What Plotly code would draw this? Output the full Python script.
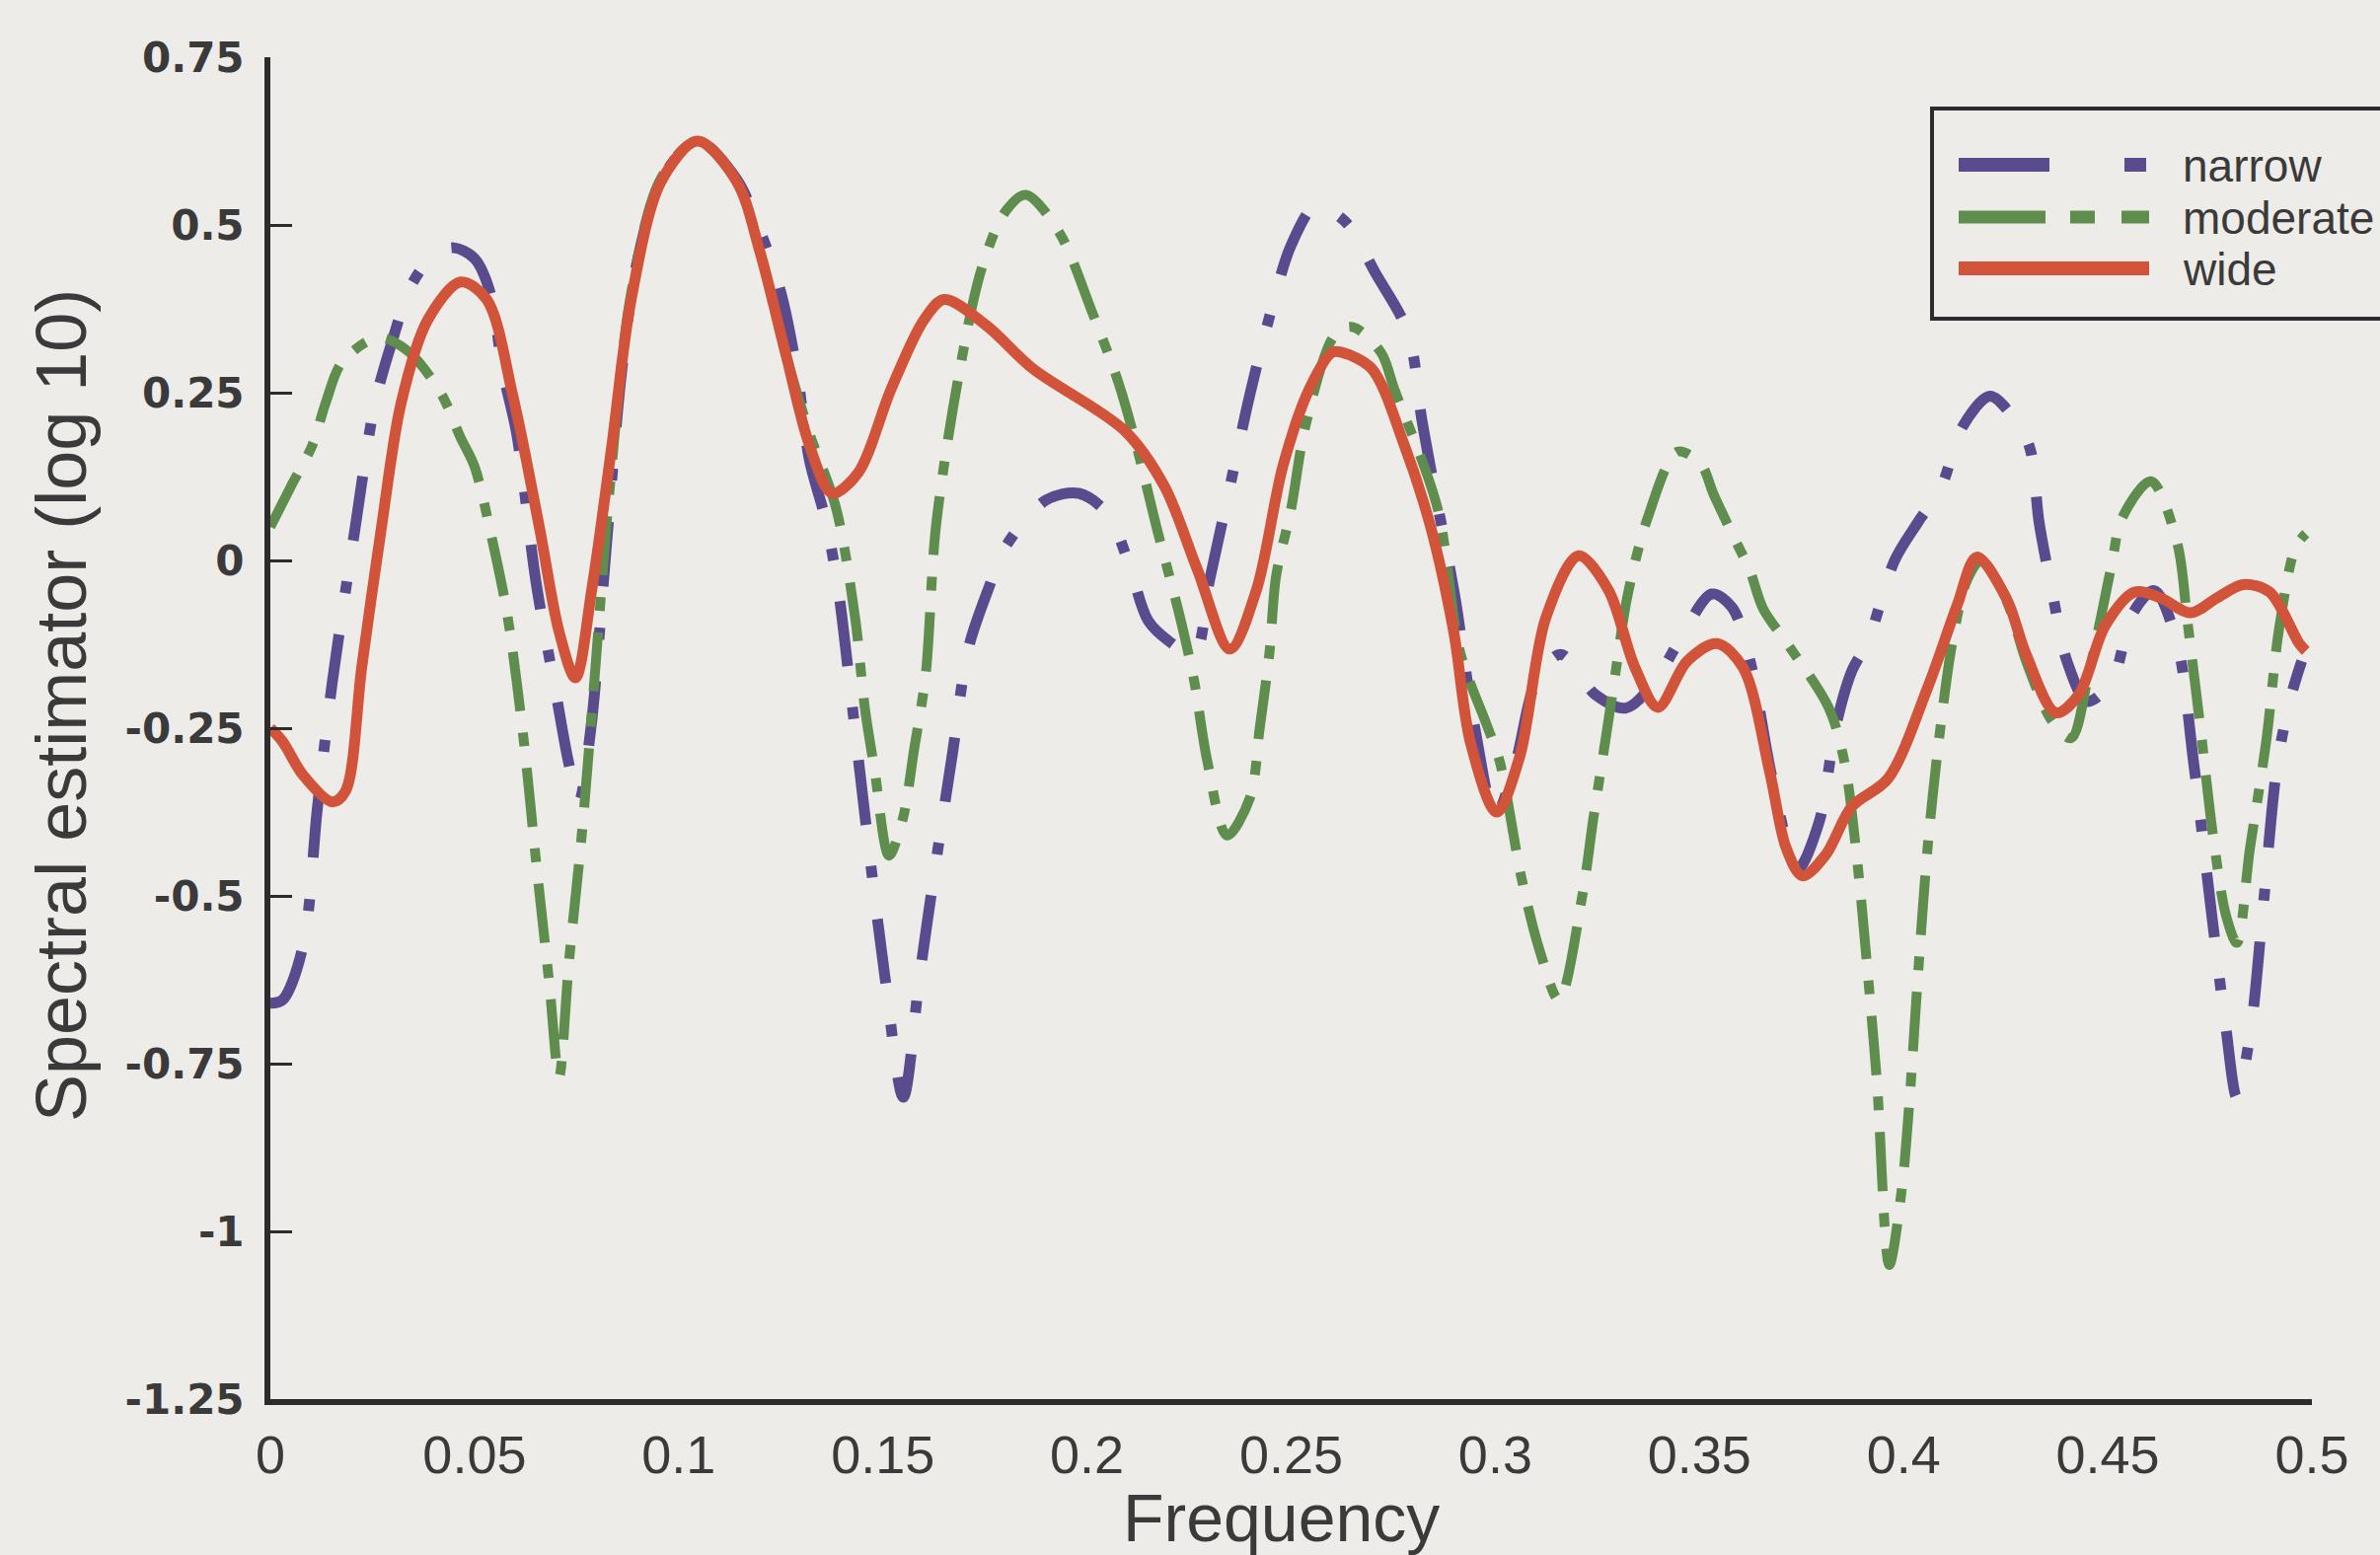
import plotly.graph_objects as go

# ---------------- data ----------------
freq_narrow = [0.000, 0.003, 0.008, 0.0115, 0.0152, 0.0208, 0.0256, 0.030, 0.0345, 0.040,
               0.0449, 0.050, 0.0538, 0.057, 0.0603, 0.0651, 0.070, 0.073, 0.0755, 0.0785,
               0.082, 0.086, 0.090, 0.096, 0.1046, 0.114, 0.120, 0.125, 0.129, 0.132,
               0.136, 0.139, 0.142, 0.146, 0.1505, 0.155, 0.159, 0.163, 0.167, 0.171,
               0.176, 0.180, 0.190, 0.198, 0.205, 0.210, 0.215, 0.220, 0.2262, 0.230,
               0.2343, 0.240, 0.245, 0.250, 0.256, 0.260, 0.264, 0.2705, 0.2786, 0.282,
               0.285, 0.290, 0.295, 0.300, 0.305, 0.310, 0.316, 0.3245, 0.332, 0.3391,
               0.3454, 0.353, 0.358, 0.3624, 0.368, 0.374, 0.3793, 0.3833, 0.3873, 0.3913,
               0.3978, 0.4034, 0.4091, 0.4145, 0.4211, 0.426, 0.4308, 0.4332, 0.4364, 0.440,
               0.445, 0.451, 0.456, 0.4614, 0.467, 0.471, 0.4755, 0.479, 0.4816, 0.485,
               0.488, 0.4916, 0.495, 0.4975]
narrow = [-0.66, -0.655, -0.575, -0.37, -0.18, 0.05, 0.234, 0.33, 0.41, 0.455,
          0.466, 0.45, 0.40, 0.28, 0.19, -0.034, -0.20, -0.30, -0.36, -0.25,
          0.0, 0.28, 0.45, 0.57, 0.625, 0.57, 0.49, 0.40, 0.28, 0.15,
          0.06, -0.04, -0.19, -0.40, -0.62, -0.80, -0.62, -0.45, -0.29, -0.13,
          -0.04, 0.02, 0.09, 0.10, 0.07, 0.0, -0.09, -0.12, -0.14, -0.03,
          0.09, 0.25, 0.37, 0.47, 0.53, 0.52, 0.50, 0.43, 0.34, 0.21,
          0.11, -0.05, -0.25, -0.38, -0.30, -0.18, -0.14, -0.20, -0.22, -0.18,
          -0.116, -0.05, -0.07, -0.15, -0.33, -0.46, -0.39, -0.25, -0.165, -0.12,
          0.0, 0.056, 0.108, 0.20, 0.245, 0.22, 0.17, 0.056, -0.047, -0.15,
          -0.21, -0.18, -0.08, -0.045, -0.124, -0.30, -0.53, -0.70, -0.80, -0.70,
          -0.52, -0.30, -0.20, -0.15]

freq_moderate = [0.000, 0.005, 0.0103, 0.0135, 0.0176, 0.0264, 0.0337, 0.0417, 0.0466, 0.050,
                 0.054, 0.058, 0.0619, 0.0651, 0.0683, 0.0707, 0.0731, 0.0764, 0.0796, 0.083,
                 0.0884, 0.0957, 0.1046, 0.1142, 0.1199, 0.1263, 0.132, 0.1385, 0.1432, 0.1456,
                 0.148, 0.1515, 0.1549, 0.1577, 0.1605, 0.163, 0.1686, 0.1742, 0.180, 0.185,
                 0.1931, 0.2012, 0.2077, 0.2125, 0.2173, 0.2226, 0.2262, 0.2294, 0.2343, 0.2399,
                 0.2423, 0.2447, 0.2463, 0.2499, 0.2536, 0.2608, 0.265, 0.272, 0.2753, 0.2858,
                 0.2914, 0.2979, 0.3011, 0.3063, 0.3108, 0.3156, 0.3213, 0.324, 0.3269, 0.3289,
                 0.3325, 0.3374, 0.3446, 0.3503, 0.3535, 0.358, 0.3624, 0.3656, 0.3721, 0.3817,
                 0.3855, 0.3885, 0.391, 0.3935, 0.3965, 0.3995, 0.4015, 0.4035, 0.406, 0.409,
                 0.412, 0.4155, 0.419, 0.4252, 0.430, 0.4364, 0.441, 0.4453, 0.451, 0.4534,
                 0.4606, 0.467, 0.4695, 0.4727, 0.476, 0.479, 0.4816, 0.4848, 0.4888, 0.492,
                 0.496, 0.4985]
moderate = [0.05, 0.11, 0.172, 0.234, 0.296, 0.332, 0.312, 0.25, 0.183, 0.14,
            0.04, -0.08, -0.26, -0.45, -0.63, -0.77, -0.60, -0.40, -0.16, 0.10,
            0.40, 0.57, 0.625, 0.565, 0.46, 0.306, 0.19, 0.079, -0.085, -0.22,
            -0.313, -0.44, -0.385, -0.28, -0.17, 0.05, 0.276, 0.435, 0.52, 0.545,
            0.49, 0.371, 0.265, 0.162, 0.043, -0.08, -0.178, -0.297, -0.41, -0.354,
            -0.25, -0.137, -0.024, 0.074, 0.203, 0.337, 0.348, 0.31, 0.255, 0.079,
            -0.137, -0.245, -0.30, -0.47, -0.58, -0.655, -0.50, -0.385, -0.271, -0.19,
            -0.049, 0.065, 0.162, 0.144, 0.098, 0.04, -0.016, -0.072, -0.129, -0.22,
            -0.30, -0.44, -0.60, -0.78, -1.05, -0.94, -0.80, -0.62, -0.42, -0.25,
            -0.12, -0.03, 0.0, -0.06, -0.15, -0.24, -0.265, -0.17, -0.005, 0.062,
            0.118, 0.026, -0.09, -0.25, -0.42, -0.53, -0.57, -0.43, -0.27, -0.10,
            0.02, 0.04]

freq_wide = [0.000, 0.003, 0.008, 0.0152, 0.0184, 0.0224, 0.0272, 0.032, 0.0385, 0.0466,
             0.053, 0.0594, 0.0659, 0.0707, 0.0747, 0.0788, 0.0836, 0.0884, 0.0957, 0.1046,
             0.1142, 0.1199, 0.1263, 0.132, 0.1376, 0.144, 0.152, 0.160, 0.165, 0.1754,
             0.1867, 0.2093, 0.219, 0.227, 0.235, 0.2415, 0.248, 0.2544, 0.2600, 0.2624,
             0.2697, 0.2777, 0.2842, 0.2898, 0.2939, 0.3003, 0.306, 0.3124, 0.3204, 0.3277,
             0.3341, 0.3398, 0.347, 0.3543, 0.3607, 0.3672, 0.3712, 0.3752, 0.3809, 0.3873,
             0.3962, 0.4058, 0.4131, 0.4179, 0.4252, 0.430, 0.4373, 0.4429, 0.4493, 0.4566,
             0.463, 0.4703, 0.4767, 0.4832, 0.4896, 0.4969, 0.4985]
wide = [-0.25, -0.27, -0.32, -0.36, -0.344, -0.158, 0.049, 0.234, 0.358, 0.415,
        0.389, 0.245, 0.049, -0.106, -0.175, -0.04, 0.17, 0.39, 0.565, 0.625,
        0.565, 0.46, 0.306, 0.172, 0.10, 0.131, 0.255, 0.358, 0.389, 0.35,
        0.286, 0.193, 0.11, -0.013, -0.132, -0.044, 0.141, 0.255, 0.31, 0.31,
        0.286, 0.172, 0.049, -0.106, -0.271, -0.375, -0.292, -0.085, 0.007, -0.044,
        -0.158, -0.219, -0.15, -0.124, -0.16, -0.315, -0.428, -0.47, -0.439, -0.367,
        -0.325, -0.191, -0.067, 0.005, -0.057, -0.14, -0.227, -0.2, -0.098, -0.047,
        -0.056, -0.078, -0.056, -0.036, -0.047, -0.124, -0.135]

series_names = ["narrow", "moderate", "wide"]
series_colors = ["#5a4b8e", "#5f8d4e", "#d1533a"]
series_dash = ["66px,42px,12px,42px", "60px,22px,14px,22px", "solid"]
series_width = [11, 10, 11]

x_tickvals = [0, 0.05, 0.1, 0.15, 0.2, 0.25, 0.3, 0.35, 0.4, 0.45, 0.5]
x_ticktext = ["0", "0.05", "0.1", "0.15", "0.2", "0.25", "0.3", "0.35", "0.4", "0.45", "0.5"]
y_tickvals = [0.75, 0.5, 0.25, 0, -0.25, -0.5, -0.75, -1, -1.25]
y_ticktext = ["0.75", "0.5", "0.25", "0", "-0.25", "-0.5", "-0.75", "-1", "-1.25"]

# ---------------- figure ----------------
W, H = 2412, 1576
ML, MR, MT, MB = 274, 69, 58, 158
PW, PH = W - ML - MR, H - MT - MB
BG = "#edece8"
INK = "#2f2a2e"
TXT = "#3b3a3a"

fig = go.Figure()
xs = [freq_narrow, freq_moderate, freq_wide]
ys = [narrow, moderate, wide]
for name, fx, vy, col, dash, lw in zip(series_names, xs, ys, series_colors, series_dash, series_width):
    fig.add_trace(go.Scatter(
        x=fx, y=vy, mode="lines", name=name,
        line=dict(color=col, width=lw, dash=dash, shape="spline", smoothing=0.9),
        showlegend=False, hoverinfo="skip"))


def px_x(px):
    return (px - ML) / PW


def px_y(py):
    return (H - MB - py) / PH


# custom legend (box, samples, labels)
shapes = [dict(type="rect", xref="paper", yref="paper",
               x0=px_x(1958), x1=px_x(2440), y0=px_y(323), y1=px_y(110),
               line=dict(color=INK, width=4), fillcolor=BG, layer="above")]
legend_y = [167, 220, 272]
legend_dash = ["92px,76px,22px,300px", "88px,25px,25px,27px,28px,300px", "solid"]
annotations = []
for name, col, ldash, lw, ly in zip(series_names, series_colors, legend_dash, series_width, legend_y):
    shapes.append(dict(type="line", xref="paper", yref="paper",
                       x0=px_x(1985), x1=px_x(2178), y0=px_y(ly), y1=px_y(ly),
                       line=dict(color=col, width=lw + 3, dash=ldash), layer="above"))
    annotations.append(dict(text=name, xref="paper", yref="paper",
                            x=px_x(2210), y=px_y(ly + 1), xanchor="left", yanchor="middle",
                            showarrow=False,
                            font=dict(family="Liberation Sans", size=46, color=TXT)))

# axis titles
annotations.append(dict(text="Frequency", xref="paper", yref="paper",
                        x=px_x(1298), y=0, yshift=-120, xanchor="center", yanchor="middle",
                        showarrow=False,
                        font=dict(family="Liberation Sans", size=68, color=TXT)))
annotations.append(dict(text="Spectral estimator (log 10)", xref="paper", yref="paper",
                        x=0, xshift=62 - ML, y=px_y(715), xanchor="center", yanchor="middle",
                        textangle=-90, showarrow=False,
                        font=dict(family="Liberation Sans", size=72, color=TXT)))

fig.update_layout(
    width=W, height=H,
    margin=dict(l=ML, r=MR, t=MT, b=MB, pad=0),
    paper_bgcolor=BG, plot_bgcolor=BG,
    showlegend=False,
    shapes=shapes, annotations=annotations,
    xaxis=dict(range=[0, 0.5], tickvals=x_tickvals, ticktext=x_ticktext,
               showgrid=False, zeroline=False, showline=True, linecolor=INK, linewidth=6,
               ticks="", ticklabelstandoff=4,
               tickfont=dict(family="Liberation Sans", size=54, color=TXT)),
    yaxis=dict(range=[-1.25, 0.75], tickvals=y_tickvals, ticktext=y_ticktext,
               showgrid=False, zeroline=False, showline=True, linecolor=INK, linewidth=6,
               ticks="inside", ticklen=22, tickwidth=3, tickcolor=INK,
               ticklabelstandoff=12,
               tickfont=dict(family="DejaVu Sans", size=42, color=TXT, weight="bold")),
)

fig.write_html("out.html", config={"displayModeBar": False},
               post_script="document.body.style.margin='0';document.body.style.overflow='hidden';")
